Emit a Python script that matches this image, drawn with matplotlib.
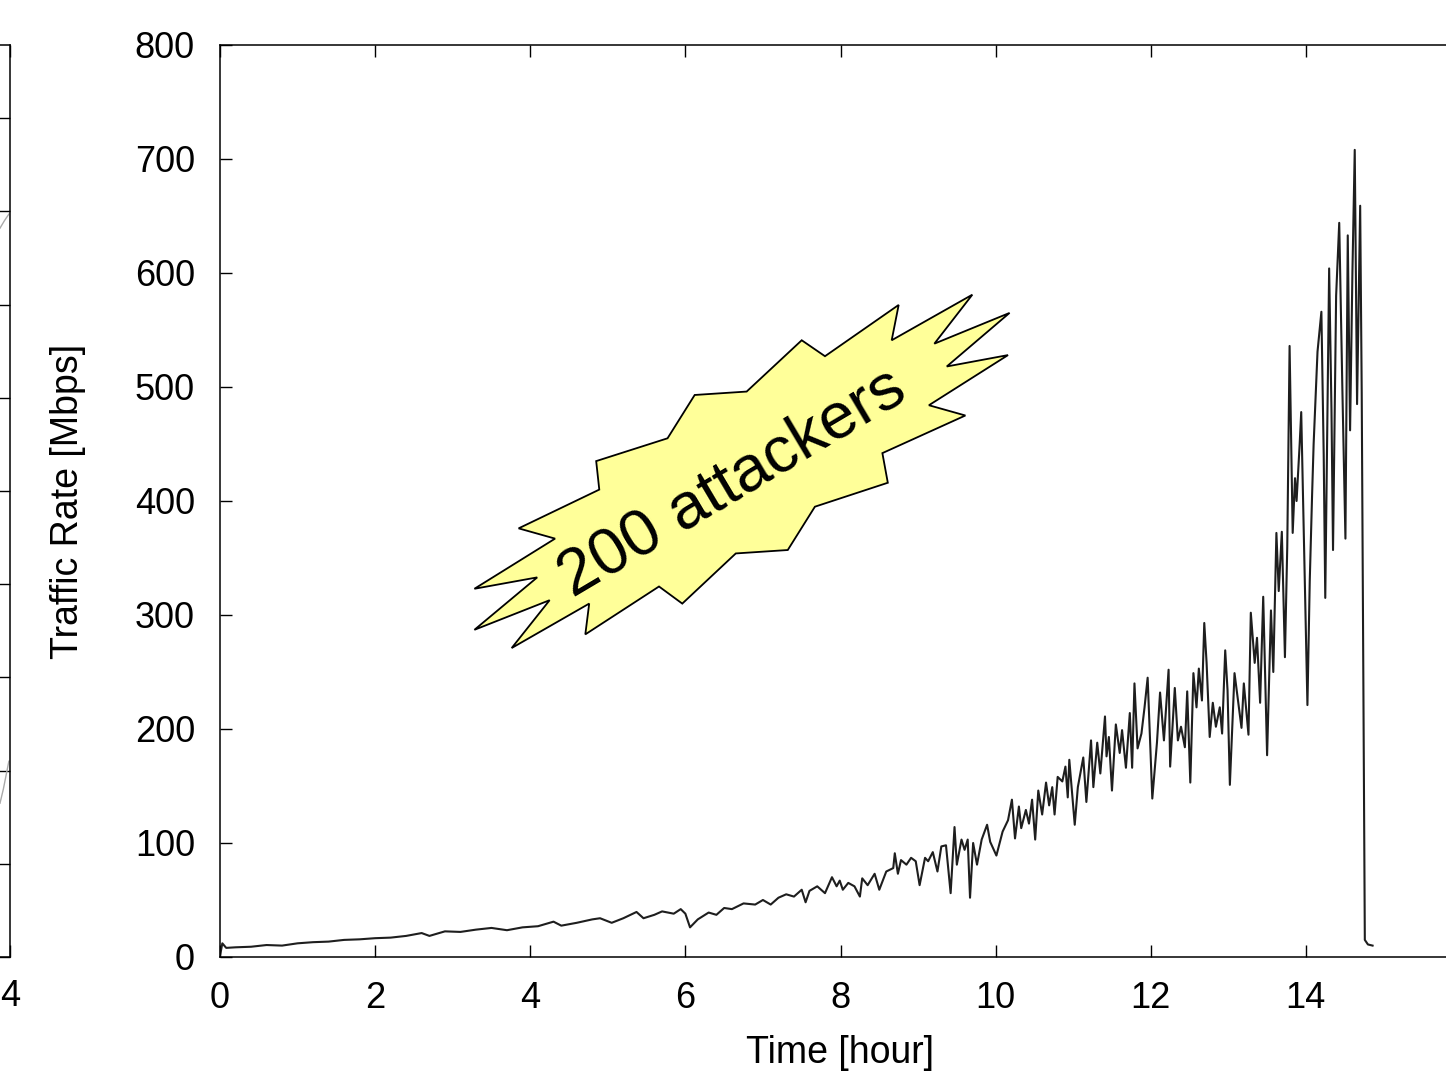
import matplotlib.pyplot as plt
from matplotlib.patches import Polygon

plt.rcParams['font.family'] = ['Liberation Sans', 'DejaVu Sans']

# --- data ---
hours = [0.0, 0.03, 0.08, 0.2, 0.4, 0.6, 0.8, 1.0, 1.2, 1.4, 1.6, 1.8, 2.0, 2.2, 2.4,
         2.6, 2.7, 2.9, 3.1, 3.3, 3.5, 3.7, 3.9, 4.1, 4.3, 4.4, 4.6, 4.8, 4.9, 5.05,
         5.2, 5.37, 5.46, 5.6, 5.7, 5.85, 5.94, 6.0, 6.06, 6.16, 6.3, 6.4, 6.5, 6.6,
         6.75, 6.9, 7.0, 7.1, 7.2, 7.3, 7.4, 7.5, 7.55, 7.6, 7.7, 7.8, 7.89, 7.95,
         7.99, 8.03, 8.10, 8.18, 8.25, 8.28, 8.35, 8.44, 8.50, 8.59, 8.68, 8.70,
         8.74, 8.78, 8.85, 8.91, 8.97, 9.02, 9.09, 9.13, 9.19, 9.25, 9.30, 9.36,
         9.42, 9.47, 9.50, 9.56, 9.60, 9.64, 9.67, 9.71, 9.76, 9.82, 9.89, 9.93,
         10.01, 10.09, 10.16, 10.21, 10.25, 10.30, 10.33, 10.39, 10.43, 10.47,
         10.51, 10.55, 10.60, 10.65, 10.69, 10.73, 10.76, 10.80, 10.86, 10.90,
         10.93, 10.95, 11.02, 11.06, 11.13, 11.17, 11.23, 11.26, 11.31, 11.35,
         11.41, 11.43, 11.46, 11.50, 11.55, 11.60, 11.63, 11.68, 11.73, 11.76,
         11.79, 11.83, 11.88, 11.92, 11.96, 12.02, 12.08, 12.12, 12.17, 12.23,
         12.25, 12.31, 12.35, 12.39, 12.44, 12.47, 12.51, 12.55, 12.59, 12.62,
         12.66, 12.69, 12.72, 12.76, 12.80, 12.84, 12.89, 12.92, 12.96, 12.99,
         13.02, 13.08, 13.12, 13.17, 13.20, 13.26, 13.29, 13.34, 13.37, 13.41,
         13.45, 13.50, 13.55, 13.58, 13.62, 13.65, 13.69, 13.73, 13.76,
         13.79, 13.83, 13.86, 13.88, 13.92, 13.94, 13.97, 14.02, 14.05, 14.08, 14.1,
         14.15, 14.2, 14.23, 14.25, 14.3, 14.33, 14.35, 14.39, 14.43, 14.47, 14.51,
         14.54, 14.57, 14.6, 14.63, 14.66, 14.7, 14.72, 14.74, 14.76, 14.8, 14.86]
rate = [1, 12, 8, 8.5, 9, 10.5, 10, 12, 13, 13.5, 15, 15.5, 16.5, 17, 18.5,
        21, 18.5, 22.5, 22, 24, 25.5, 23.5, 26, 27, 31, 27.5, 30, 33, 34, 30,
        34, 39.5, 34, 37, 40, 38, 42, 38, 26, 33, 39, 37, 43, 42,
        47, 46, 50, 46, 52, 55, 53, 59, 48, 58, 62, 56, 70, 62,
        67, 59, 65, 62, 53, 69, 63, 73, 59, 75, 78, 91,
        73, 85, 81, 87, 84, 63, 87, 84, 92, 75, 97, 98,
        56, 114, 81, 103, 94, 103, 52, 100, 81, 103, 116, 101,
        89, 110, 120, 138, 104, 132, 113, 129, 117, 138,
        103, 146, 125, 153, 133, 149, 125, 158, 154, 167,
        140, 173, 116, 149, 175, 136, 190, 149, 188, 161,
        211, 176, 193, 146, 204, 179, 199, 166, 214, 166,
        240, 183, 196, 219, 245, 139, 188, 232, 190, 252,
        167, 236, 190, 202, 184, 233, 153, 249, 219, 253,
        225, 293, 258, 193, 223, 202, 219, 196, 269, 234,
        151, 249, 228, 201, 240, 195, 302, 258, 280, 223,
        316, 177, 304, 250, 372, 321, 373, 263, 360,
        536, 372, 420, 400, 450, 478, 380, 221, 330, 405, 450,
        531, 566, 440, 315, 604, 480, 357, 580, 644, 500, 367,
        633, 462, 600, 708, 485, 659, 495, 250, 15, 11, 10]

x_ticks = [0, 2, 4, 6, 8, 10, 12, 14]
y_ticks = [0, 100, 200, 300, 400, 500, 600, 700, 800]

# starburst callout outline, in data units (hour, Mbps)
burst_x = [3.28, 4.25, 3.76, 4.76, 4.71, 5.66, 5.96, 6.65, 7.32, 7.67, 8.61, 8.54,
           9.61, 9.14, 10.16, 9.37, 10.18, 9.21, 9.70, 8.66, 8.75, 7.80, 7.50, 6.79,
           6.12, 5.77, 4.85, 4.89, 3.85, 4.32, 3.28, 4.09]
burst_y = [287, 313, 271, 310, 283, 325, 310, 354, 357, 395, 416, 442,
           475, 484, 528, 518, 565, 538, 581, 541, 572, 527, 541, 496,
           493, 455, 435, 410, 376, 367, 323, 333]

# tail ends of the neighbouring panel's curves
left_x1 = [3.91, 3.95, 3.99]
left_y1 = [7.82, 7.90, 7.97]
left_x2 = [3.91, 3.94, 3.97, 3.99]
left_y2 = [1.65, 1.80, 1.98, 2.10]

W, H = 1446, 1087
fig = plt.figure(figsize=(W / 100, H / 100), dpi=100)

tick_kw = dict(direction='in', length=8.6, width=1.0, labelsize=26)

# --- neighbouring panel, mostly cut off on the left ---
axl = fig.add_axes([-0.3, 130 / H, 0.3069, 912 / H])
axl.plot(left_x1, left_y1, color='#aaaaaa', lw=1.0)
axl.plot(left_x2, left_y2, color='#aaaaaa', lw=1.0)
axl.set_xlim(0, 4)
axl.set_ylim(0, 9.785)
axl.set_xticks([0, 1, 2, 3, 4])
axl.set_xticklabels(['', '', '', '', '4'])
axl.set_yticks(range(10))
axl.tick_params(axis='both', which='both', top=True, right=True, labelleft=False,
                pad=16, **tick_kw)
for s in axl.spines.values():
    s.set_linewidth(1.1)

# --- main panel ---
ax = fig.add_axes([220 / W, 130 / H, 1241 / W, 912 / H])
ax.plot(hours, rate, color='#1e1e1e', lw=1.5)

ax.set_xlim(0, 16)
ax.set_ylim(0, 800)
ax.set_xticks(x_ticks)
ax.set_yticks(y_ticks)
ax.tick_params(axis='both', which='both', top=True, right=True, **tick_kw)
ax.tick_params(axis='x', pad=17)
ax.tick_params(axis='y', pad=18)
for s in ax.spines.values():
    s.set_linewidth(1.1)

ax.set_xlabel('Time [hour]', fontsize=27)
ax.set_ylabel('Traffic Rate [Mbps]', fontsize=27)
ax.xaxis.set_label_coords(0.5, -0.085)
ax.yaxis.set_label_coords(-0.108, 0.5)

burst = Polygon(list(zip(burst_x, burst_y)), closed=True, facecolor='#ffff99',
                edgecolor='black', lw=1.3, zorder=3)
ax.add_patch(burst)
ax.text(6.6, 416, '200 attackers', fontsize=47, rotation=30.7,
        rotation_mode='anchor', ha='center', va='center', zorder=4)

plt.savefig('out.png', dpi=100)
